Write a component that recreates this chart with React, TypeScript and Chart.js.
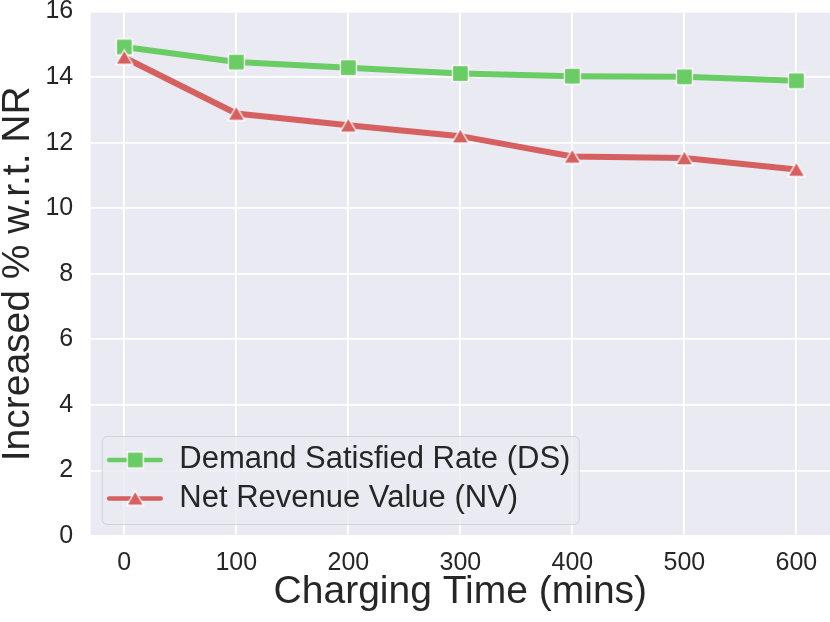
import React, { useEffect, useRef } from "react";
import { Chart, registerables } from "chart.js";

Chart.register(...registerables);

// ---- Data ----
const chargingTimes = [0, 100, 200, 300, 400, 500, 600];
const demandSatisfied = [14.92, 14.46, 14.29, 14.11, 14.03, 14.01, 13.89];
const netRevenue = [14.6, 12.89, 12.53, 12.2, 11.58, 11.53, 11.18];
const seriesLabels = ["Demand Satisfied Rate (DS)", "Net Revenue Value (NV)"];
const xTickValues = [0, 100, 200, 300, 400, 500, 600];
const yTickValues = [0, 2, 4, 6, 8, 10, 12, 14, 16];
const xTitle = "Charging Time (mins)";
const yTitle = "Increased % w.r.t. NR";

const GREEN = "#6ACC64";
const RED = "#D65F5F";
const TEXT = "#262626";
const BG = "#EAEAF2";
const FONT = '"Liberation Sans", Arial, sans-serif';

function makeSquare(color: string): HTMLCanvasElement {
  const c = document.createElement("canvas");
  c.width = 19;
  c.height = 19;
  const g = c.getContext("2d")!;
  g.fillStyle = color;
  g.fillRect(1.5, 1.5, 16, 16);
  g.strokeStyle = "#ffffff";
  g.lineWidth = 1.3;
  g.strokeRect(1.5, 1.5, 16, 16);
  return c;
}

function makeTriangle(color: string): HTMLCanvasElement {
  const c = document.createElement("canvas");
  c.width = 20;
  c.height = 18;
  const g = c.getContext("2d")!;
  g.beginPath();
  g.moveTo(10, 1.5);
  g.lineTo(1.5, 16);
  g.lineTo(18.5, 16);
  g.closePath();
  g.fillStyle = color;
  g.fill();
  g.strokeStyle = "#ffffff";
  g.lineWidth = 1.3;
  g.lineJoin = "miter";
  g.stroke();
  return c;
}

export default function App() {
  const canvasRef = useRef<HTMLCanvasElement | null>(null);

  useEffect(() => {
    document.body.style.margin = "0";
    const canvas = canvasRef.current;
    if (!canvas) return;

    const square = makeSquare(GREEN);
    const triangle = makeTriangle(RED);
    const markers = [square, triangle];
    const colors = [GREEN, RED];

    const backgroundPlugin = {
      id: "plotBackground",
      beforeDraw(chart: any) {
        const { ctx, chartArea } = chart;
        ctx.save();
        ctx.fillStyle = BG;
        ctx.fillRect(
          chartArea.left,
          chartArea.top,
          chartArea.right - chartArea.left,
          chartArea.bottom - chartArea.top
        );
        ctx.restore();
      },
    };

    const legendPlugin = {
      id: "insideLegend",
      afterDraw(chart: any) {
        const { ctx, chartArea } = chart;
        const bx = chartArea.left + 11;
        const by = chartArea.bottom - 100;
        const bw = 477;
        const bh = 88;
        ctx.save();
        ctx.beginPath();
        if ((ctx as any).roundRect) {
          (ctx as any).roundRect(bx + 0.5, by + 0.5, bw, bh, 5);
        } else {
          ctx.rect(bx + 0.5, by + 0.5, bw, bh);
        }
        ctx.fillStyle = "rgba(234,234,242,0.8)";
        ctx.fill();
        ctx.strokeStyle = "rgba(204,204,204,0.8)";
        ctx.lineWidth = 1;
        ctx.stroke();

        const baselines = [by + 32.3, by + 70.7];
        seriesLabels.forEach((label, i) => {
          const base = baselines[i];
          const ly = base - 8.3;
          ctx.beginPath();
          ctx.moveTo(bx + 7.5, ly);
          ctx.lineTo(bx + 59, ly);
          ctx.strokeStyle = colors[i];
          ctx.lineWidth = 4.5;
          ctx.lineCap = "round";
          ctx.stroke();
          const m = markers[i];
          ctx.drawImage(m, bx + 33.5 - m.width / 2, ly - m.height / 2);
          ctx.fillStyle = TEXT;
          ctx.font = `31px ${FONT}`;
          ctx.textAlign = "left";
          ctx.textBaseline = "alphabetic";
          ctx.fillText(label, bx + 77.6, base);
        });
        ctx.restore();
      },
    };

    const chart = new Chart(canvas, {
      type: "line",
      data: {
        datasets: [
          {
            label: seriesLabels[0],
            data: chargingTimes.map((t, i) => ({ x: t, y: demandSatisfied[i] })),
            borderColor: GREEN,
            backgroundColor: GREEN,
            borderWidth: 6,
            pointStyle: square as any,
            pointRadius: 10,
            pointHoverRadius: 10,
            fill: false,
            order: 1,
          },
          {
            label: seriesLabels[1],
            data: chargingTimes.map((t, i) => ({ x: t, y: netRevenue[i] })),
            borderColor: RED,
            backgroundColor: RED,
            borderWidth: 6,
            pointStyle: triangle as any,
            pointRadius: 10,
            pointHoverRadius: 10,
            fill: false,
            order: 0,
          },
        ],
      },
      options: {
        animation: false,
        responsive: true,
        maintainAspectRatio: false,
        layout: { autoPadding: false, padding: { top: 11.6, right: 0, bottom: 0, left: 0 } },
        plugins: {
          legend: { display: false },
          tooltip: { enabled: false },
          title: { display: false },
        },
        scales: {
          x: {
            type: "linear",
            min: -30,
            max: 630,
            afterBuildTicks(scale: any) {
              scale.ticks = xTickValues.map((v) => ({ value: v }));
            },
            afterFit(scale: any) {
              scale.height = 86;
              scale.paddingLeft = 0;
              scale.paddingRight = 0;
            },
            grid: {
              color: "#ffffff",
              lineWidth: 1.8,
              drawTicks: true,
              tickLength: 12.5,
              tickColor: "rgba(0,0,0,0)",
            },
            border: { display: false },
            ticks: {
              color: TEXT,
              padding: 0,
              font: { family: FONT, size: 25 },
              maxRotation: 0,
              autoSkip: false,
            },
            title: {
              display: true,
              text: xTitle,
              color: TEXT,
              font: { family: FONT, size: 39, lineHeight: 1.2 },
              padding: { top: 0, bottom: 6 },
            },
          },
          y: {
            type: "linear",
            min: 0,
            max: 16,
            afterBuildTicks(scale: any) {
              scale.ticks = yTickValues.map((v) => ({ value: v }));
            },
            afterFit(scale: any) {
              scale.width = 90.7;
              scale.paddingTop = 0;
              scale.paddingBottom = 0;
            },
            grid: {
              color: "#ffffff",
              lineWidth: 1.8,
              drawTicks: true,
              tickLength: 17.5,
              tickColor: "rgba(0,0,0,0)",
            },
            border: { display: false },
            ticks: {
              color: TEXT,
              padding: 0,
              font: { family: FONT, size: 25, lineHeight: 0.9 },
              autoSkip: false,
            },
            title: {
              display: true,
              text: yTitle,
              color: TEXT,
              font: { family: FONT, size: 39, lineHeight: 0.92 },
              padding: { top: 0, bottom: 0 },
            },
          },
        },
      },
      plugins: [backgroundPlugin, legendPlugin],
    });

    return () => {
      chart.destroy();
    };
  }, []);

  return (
    <div style={{ position: "fixed", left: 0, top: 0, width: 830, height: 622 }}>
      <canvas ref={canvasRef} />
    </div>
  );
}
